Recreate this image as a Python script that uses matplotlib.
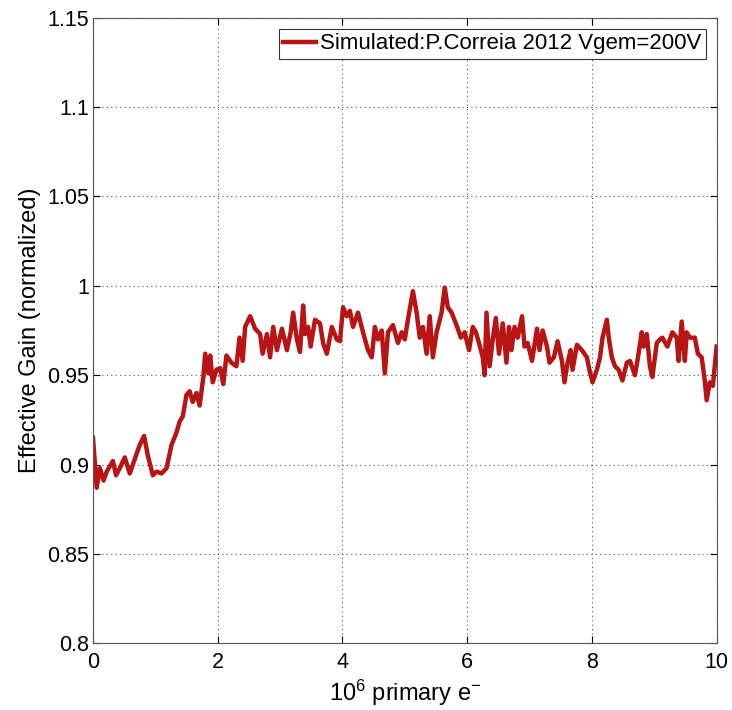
import matplotlib
matplotlib.use('Agg')
from matplotlib import pyplot as plt

plt.rcParams['font.family'] = ['Liberation Sans', 'DejaVu Sans']
plt.rcParams['mathtext.fontset'] = 'custom'
plt.rcParams['mathtext.rm'] = 'Liberation Sans'
plt.rcParams['mathtext.it'] = 'Liberation Sans'

# trace (x in 10^6 primary electrons)
primaries = [0.0, 0.06, 0.11, 0.17, 0.22, 0.32, 0.37, 0.43, 0.51, 0.59, 0.67, 0.75, 0.82, 0.88,
             0.96, 1.02, 1.10, 1.18, 1.26, 1.34, 1.39, 1.44, 1.50, 1.55, 1.60, 1.66, 1.71, 1.77,
             1.80, 1.85, 1.88, 1.92, 1.98, 2.04, 2.09, 2.14, 2.22, 2.30, 2.35, 2.40, 2.44, 2.52,
             2.60, 2.68, 2.72, 2.79, 2.84, 2.89, 2.95, 3.03, 3.11, 3.17, 3.21, 3.27, 3.32, 3.37,
             3.40, 3.45, 3.49, 3.56, 3.64, 3.69, 3.75, 3.83, 3.91, 3.96, 4.01, 4.07, 4.12, 4.17,
             4.25, 4.33, 4.41, 4.47, 4.52, 4.57, 4.63, 4.68, 4.73, 4.81, 4.89, 4.95, 5.00, 5.05,
             5.13, 5.19, 5.24, 5.29, 5.35, 5.40, 5.45, 5.51, 5.59, 5.64, 5.69, 5.75, 5.83, 5.90,
             5.96, 6.03, 6.09, 6.14, 6.19, 6.25, 6.28, 6.31, 6.36, 6.41, 6.46, 6.51, 6.57, 6.63,
             6.67, 6.71, 6.76, 6.81, 6.88, 6.92, 6.97, 7.04, 7.12, 7.16, 7.21, 7.28, 7.32, 7.39,
             7.45, 7.52, 7.56, 7.61, 7.66, 7.69, 7.76, 7.84, 7.92, 7.96, 8.01, 8.08, 8.13, 8.17,
             8.24, 8.27, 8.32, 8.37, 8.43, 8.49, 8.56, 8.61, 8.69, 8.73, 8.80, 8.83, 8.88, 8.93,
             8.97, 9.04, 9.09, 9.13, 9.21, 9.29, 9.36, 9.39, 9.44, 9.49, 9.52, 9.57, 9.65, 9.70,
             9.76, 9.81, 9.84, 9.89, 9.94, 10.0]
gain = [0.915, 0.887, 0.898, 0.891, 0.896, 0.902, 0.894, 0.898, 0.904, 0.895, 0.903, 0.911, 0.916, 0.905,
        0.894, 0.896, 0.895, 0.898, 0.911, 0.918, 0.924, 0.927, 0.939, 0.941, 0.935, 0.940, 0.933, 0.949,
        0.962, 0.951, 0.961, 0.946, 0.953, 0.954, 0.945, 0.961, 0.957, 0.955, 0.971, 0.958, 0.977, 0.983,
        0.976, 0.973, 0.962, 0.973, 0.960, 0.977, 0.964, 0.976, 0.964, 0.974, 0.985, 0.970, 0.963, 0.989,
        0.973, 0.977, 0.966, 0.981, 0.979, 0.968, 0.962, 0.977, 0.970, 0.969, 0.988, 0.983, 0.986, 0.977,
        0.985, 0.974, 0.964, 0.960, 0.977, 0.970, 0.975, 0.951, 0.974, 0.978, 0.968, 0.974, 0.970, 0.981,
        0.997, 0.985, 0.971, 0.977, 0.962, 0.983, 0.960, 0.974, 0.985, 0.999, 0.988, 0.985, 0.978, 0.971,
        0.974, 0.964, 0.977, 0.974, 0.968, 0.960, 0.950, 0.985, 0.955, 0.970, 0.982, 0.962, 0.979, 0.957,
        0.977, 0.964, 0.977, 0.971, 0.983, 0.966, 0.968, 0.958, 0.976, 0.964, 0.975, 0.966, 0.957, 0.960,
        0.969, 0.958, 0.946, 0.957, 0.964, 0.953, 0.967, 0.964, 0.960, 0.953, 0.946, 0.953, 0.960, 0.971,
        0.981, 0.971, 0.960, 0.955, 0.953, 0.947, 0.957, 0.958, 0.950, 0.958, 0.974, 0.966, 0.973, 0.955,
        0.949, 0.968, 0.970, 0.971, 0.966, 0.974, 0.971, 0.958, 0.980, 0.958, 0.974, 0.971, 0.971, 0.962,
        0.960, 0.947, 0.936, 0.946, 0.944, 0.966]

x_ticks = [0, 2, 4, 6, 8, 10]
y_ticks = [0.8, 0.85, 0.9, 0.95, 1.0, 1.05, 1.1, 1.15]
y_tick_labels = ['0.8', '0.85', '0.9', '0.95', '1', '1.05', '1.1', '1.15']

fig = plt.figure(figsize=(7.32, 7.10), dpi=100)
ax = fig.add_axes([0.127, 0.094, 0.852, 0.881])

ax.plot(primaries, gain, color='#b81414', linewidth=3.2,
        label='Simulated:P.Correia 2012 Vgem=200V')

ax.set_xlim(0, 10)
ax.set_ylim(0.8, 1.15)
ax.set_xticks(x_ticks)
ax.set_yticks(y_ticks)
ax.set_yticklabels(y_tick_labels)
ax.tick_params(direction='in', top=True, right=True, labelsize=15.5, length=5)
ax.tick_params(axis='x', pad=6)
ax.tick_params(axis='y', pad=3)
ax.grid(True, linestyle=(0, (1, 3)), color='#555555', linewidth=0.8)
for sp in ax.spines.values():
    sp.set_color('#555555')

ax.set_xlabel(r'$10^6$ primary e$^{-}$', fontsize=17, labelpad=4)
ax.set_ylabel('Effective Gain (normalized)', fontsize=17, labelpad=4)

leg = ax.legend(loc='upper right', fontsize=16, fancybox=False, framealpha=1,
                edgecolor='#333333', handlelength=1.5, handletextpad=0.15,
                borderpad=0.2, borderaxespad=0.5)
leg.get_frame().set_linewidth(0.8)

fig.savefig('out.png', dpi=100)
